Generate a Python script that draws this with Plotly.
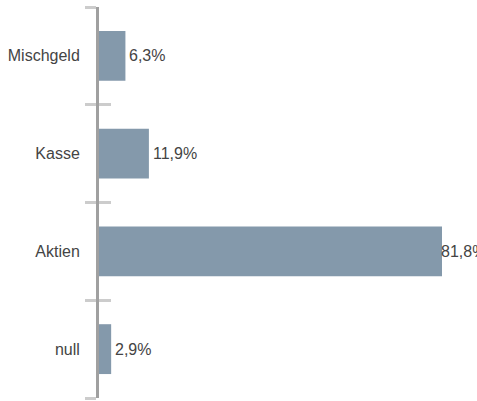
import plotly.graph_objects as go

# data
categories = ["Mischgeld", "Kasse", "Aktien", "null"]
values = [6.3, 11.9, 81.8, 2.9]

labels = [f"{v:.1f}".replace(".", ",") + "%" for v in values]
# plotly draws category axes bottom-up, so reverse for top-down order
cats = categories[::-1]
vals = values[::-1]
texts = labels[::-1]

FONT = "Liberation Sans, Arial, sans-serif"

fig = go.Figure()
fig.add_trace(go.Bar(
    y=cats, x=vals, orientation="h",
    width=0.51,
    marker=dict(color="#8499ab", line=dict(width=0)),
    hoverinfo="skip",
))

# value labels just right of each bar end (the longest one is squeezed in)
for c, v, t in zip(cats, vals, texts):
    fig.add_annotation(
        x=v, y=c, text=t, showarrow=False,
        xanchor="left", yanchor="middle",
        xshift=2 if v < max(vals) else -3,
        font=dict(family=FONT, size=16, color="#444444"),
    )

fig.update_layout(
    width=477, height=401,
    margin=dict(l=99, r=35, t=7, b=3, autoexpand=False),
    plot_bgcolor="white", paper_bgcolor="white",
    showlegend=False,
    font=dict(family=FONT, size=16, color="#444444"),
)
fig.update_xaxes(range=[0, max(values)], visible=False, showgrid=False,
                 zeroline=False, automargin=False)
fig.update_yaxes(
    type="category", categoryorder="array", categoryarray=cats,
    showline=True, linecolor="#a0a0a0", linewidth=3,
    ticks="outside", tickson="boundaries", ticklen=11,
    tickcolor="#cccccc", tickwidth=3,
    showgrid=False, zeroline=False, automargin=False,
    ticklabelstandoff=13,
)
# inner half of the boundary ticks
fig.update_layout(yaxis2=dict(
    overlaying="y", type="category", categoryorder="array", categoryarray=cats,
    range=[-0.5, 3.5], showticklabels=False, showline=False, automargin=False,
    ticks="inside", tickson="boundaries", ticklen=12,
    tickcolor="#cccccc", tickwidth=3, showgrid=False, zeroline=False,
))
fig.add_trace(go.Scatter(y=cats, x=[None] * len(cats), yaxis="y2",
                         mode="markers", hoverinfo="skip"))

fig.write_html(
    "out.html",
    config={"displayModeBar": False},
    post_script="document.body.style.margin='0';document.body.style.overflow='hidden';",
)
